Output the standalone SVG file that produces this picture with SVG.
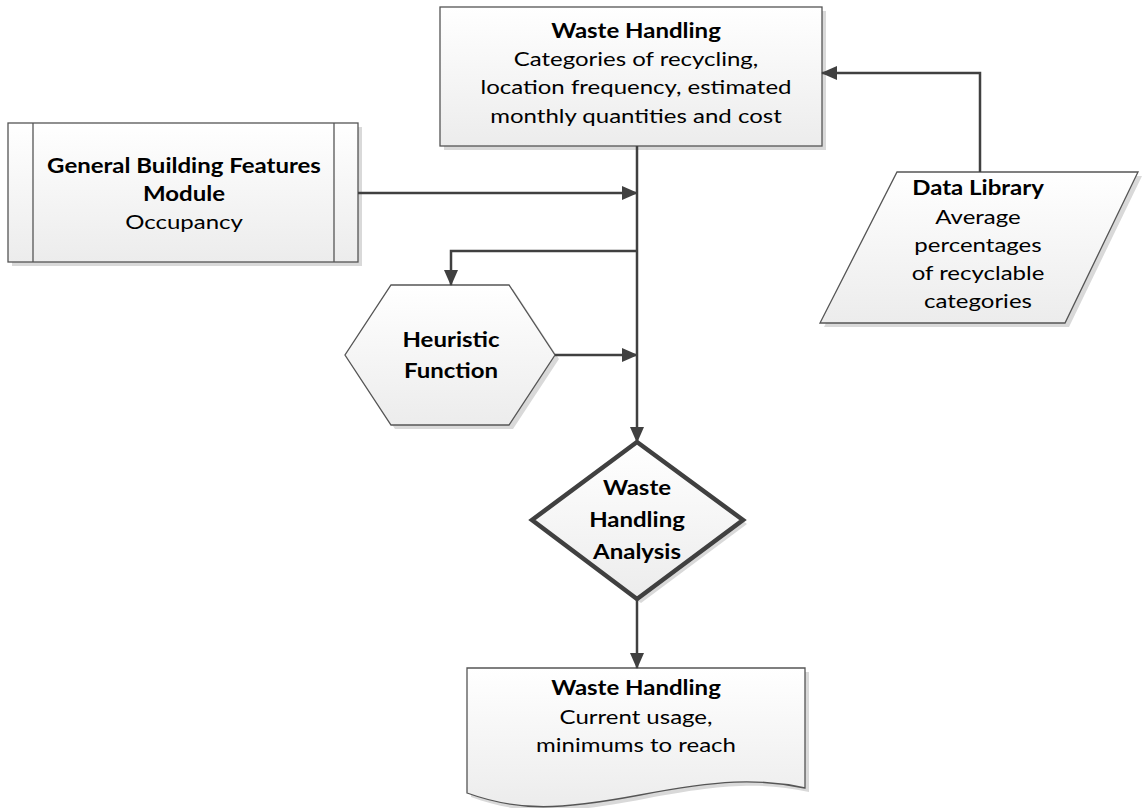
<svg xmlns="http://www.w3.org/2000/svg" width="1143" height="808" viewBox="0 0 1143 808">
<defs>
<linearGradient id="g" x1="0" y1="0" x2="0" y2="1">
<stop offset="0" stop-color="#ffffff"/>
<stop offset="1" stop-color="#ececec"/>
</linearGradient>
<marker id="ah" markerWidth="16" markerHeight="14" refX="15" refY="7" orient="auto" markerUnits="userSpaceOnUse">
<path d="M0,0 L16,7 L0,14 Z" fill="#404040"/>
</marker>
</defs>
<style>
.shape{fill:url(#g);stroke:#555;stroke-width:1.3}
.shadow{fill:#d9d9d9;stroke:none}
.conn{fill:none;stroke:#404040;stroke-width:2.5}
text{font-family:Lato,"Liberation Sans",sans-serif;font-size:20px;fill:#000;text-anchor:middle}
.b{font-weight:bold}
</style>
<rect width="1143" height="808" fill="#fff"/>
<g id="waste-handling-top">
<rect class="shadow" x="444" y="11" width="382" height="139"/>
<rect class="shape" x="440" y="7" width="382" height="139"/>
<g transform="translate(636,0) scale(1.2,1)">
<text class="b" x="0" y="38">Waste Handling</text>
<text x="0" y="66">Categories of recycling,</text>
<text x="0" y="94">location frequency, estimated</text>
<text x="0" y="123">monthly quantities and cost</text>
</g>
</g>
<g id="general-building">
<rect class="shadow" x="12" y="127" width="350" height="139"/>
<rect class="shape" x="8" y="123" width="350" height="139"/>
<line x1="33" y1="123" x2="33" y2="262" stroke="#555" stroke-width="1.3"/>
<line x1="334" y1="123" x2="334" y2="262" stroke="#555" stroke-width="1.3"/>
<g transform="translate(184,0) scale(1.2,1)">
<text class="b" x="0" y="173">General Building Features</text>
<text class="b" x="0" y="201">Module</text>
<text x="0" y="229">Occupancy</text>
</g>
</g>
<g id="data-library">
<polygon class="shadow" points="901,176 1142,176 1069,327 824,327"/>
<polygon class="shape" points="897,172 1138,172 1065,323 820,323"/>
<g transform="translate(978,0) scale(1.2,1)">
<text class="b" x="0" y="195">Data Library</text>
<text x="0" y="224">Average</text>
<text x="0" y="252">percentages</text>
<text x="0" y="280">of recyclable</text>
<text x="0" y="308">categories</text>
</g>
</g>
<g id="heuristic">
<polygon class="shadow" points="395,289 513,289 559,359 513,429 395,429 349,359"/>
<polygon class="shape" points="391,285 509,285 555,355 509,425 391,425 345,355"/>
<g transform="translate(451,0) scale(1.2,1)">
<text class="b" x="0" y="347">Heuristic</text>
<text class="b" x="0" y="378">Function</text>
</g>
</g>
<g id="analysis">
<polygon class="shadow" points="641,446 747,524 641,603 536,524"/>
<polygon points="637,442 743,520 637,599 532,520" fill="url(#g)" stroke="#404040" stroke-width="4.5" stroke-linejoin="miter"/>
<g transform="translate(637,0) scale(1.2,1)">
<text class="b" x="0" y="495">Waste</text>
<text class="b" x="0" y="527">Handling</text>
<text class="b" x="0" y="559">Analysis</text>
</g>
</g>
<g id="waste-handling-doc">
<path class="shadow" d="M471,672 H809 V792 C762,782 722,784 644,799 C564,814 524,816 471,797 Z"/>
<path class="shape" d="M467,668 H805 V788 C758,778 718,780 640,795 C560,810 520,812 467,793 Z"/>
<g transform="translate(636,0) scale(1.2,1)">
<text class="b" x="0" y="695">Waste Handling</text>
<text x="0" y="724">Current usage,</text>
<text x="0" y="752">minimums to reach</text>
</g>
</g>
<g id="connectors">
<line class="conn" x1="637" y1="146" x2="637" y2="442" marker-end="url(#ah)"/>
<line class="conn" x1="358" y1="193" x2="637" y2="193" marker-end="url(#ah)"/>
<polyline class="conn" points="637,251 451,251 451,285" marker-end="url(#ah)"/>
<line class="conn" x1="555" y1="355" x2="637" y2="355" marker-end="url(#ah)"/>
<polyline class="conn" points="980,172 980,73 822,73" marker-end="url(#ah)"/>
<line class="conn" x1="637" y1="599" x2="637" y2="668" marker-end="url(#ah)"/>
</g>
</svg>
